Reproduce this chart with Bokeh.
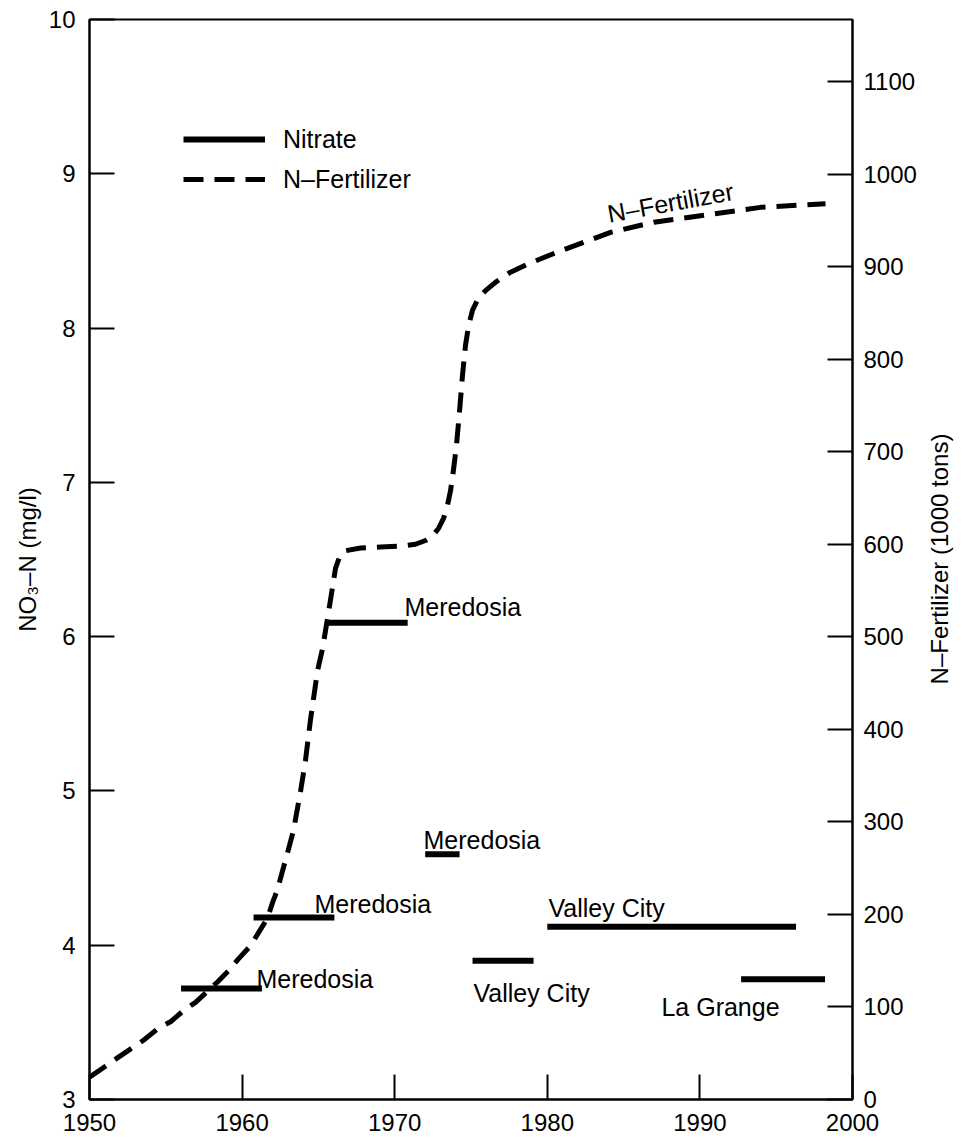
from bokeh.plotting import figure
from bokeh.models import Range1d, LinearAxis, FixedTicker, Legend, LegendItem, ColumnDataSource, Label, Div
from bokeh.layouts import row
from bokeh.embed import file_html
from bokeh.resources import INLINE
from bokeh.core.properties import value

FONT = "Liberation Sans"

# Nitrate (NO3-N, mg/l) period averages
sites = ["Meredosia", "Meredosia", "Meredosia", "Meredosia", "Valley City", "Valley City", "La Grange"]
start_year = [1956.0, 1960.75, 1965.6, 1972.0, 1975.1, 1980.0, 1992.7]
end_year = [1961.3, 1966.05, 1970.85, 1974.25, 1979.1, 1996.3, 1998.2]
nitrate = [3.72, 4.18, 6.09, 4.59, 3.90, 4.12, 3.78]
label_x = [1960.94, 1964.74, 1970.64, 1971.89, 1975.16, 1980.08, 1987.48]
label_y = [3.78, 4.27, 6.19, 4.68, 3.69, 4.24, 3.60]

# N-Fertilizer (1000 tons)
fert_year = [1950.0, 1951.05, 1951.83, 1952.82, 1953.54, 1954.52, 1955.31, 1956.16, 1956.95,
             1957.8, 1958.39, 1959.11, 1959.76, 1960.55, 1961.07, 1961.66, 1962.0, 1962.3,
             1962.65, 1962.97, 1963.37, 1963.83, 1964.15, 1964.48, 1964.94, 1965.27, 1965.6,
             1965.92, 1966.12, 1966.4, 1966.78, 1967.76, 1969.07, 1970.38, 1971.36, 1972.02,
             1972.48, 1972.87, 1973.2, 1973.46, 1973.66, 1973.85, 1974.05, 1974.25, 1974.44,
             1974.64, 1974.84, 1975.1, 1975.49, 1975.95, 1976.6, 1977.59, 1978.9, 1980.87,
             1984.14, 1987.0, 1990.04, 1993.97, 1998.23]
fert_kt = [24, 36, 45, 56, 64, 77, 84, 96, 105,
           118, 127, 139, 152, 166, 180, 196, 213, 226,
           247, 266, 291, 333, 366, 410, 463, 487, 520,
           553, 574, 587, 593, 596, 597, 598, 600, 604,
           609, 617, 628, 642, 658, 680, 707, 744, 782,
           815, 836, 853, 866, 874, 883, 894, 904, 917,
           937, 948, 955, 964, 968]

x_ticks = [1950, 1960, 1970, 1980, 1990, 2000]
left_ticks = [3, 4, 5, 6, 7, 8, 9, 10]
right_ticks = [0, 100, 200, 300, 400, 500, 600, 700, 800, 900, 1000, 1100]
right_title = "N–Fertilizer (1000 tons)"

p = figure(width=925, height=1141, output_backend="svg", toolbar_location=None,
           x_range=Range1d(1950, 2000), y_range=Range1d(3, 10),
           min_border_left=89, min_border_right=73, min_border_top=19, min_border_bottom=42)
p.extra_y_ranges = {"fert": Range1d(0, 1167)}
p.xgrid.visible = False
p.ygrid.visible = False
p.outline_line_color = "black"
p.outline_line_width = 2
p.background_fill_color = "white"
p.border_fill_color = "white"

def style_axis(ax):
    ax.axis_line_color = "black"
    ax.axis_line_width = 2
    ax.major_tick_in = 25
    ax.major_tick_out = 0
    ax.major_tick_line_width = 2
    ax.major_tick_line_color = "black"
    ax.minor_tick_line_color = None
    ax.major_label_text_font = FONT
    ax.major_label_text_font_size = "24px"
    ax.major_label_text_color = "black"
    ax.axis_label_text_font = FONT
    ax.axis_label_text_font_size = "24px"
    ax.axis_label_text_font_style = "normal"
    ax.axis_label_text_color = "black"

xa = p.xaxis[0]
xa.ticker = FixedTicker(ticks=x_ticks)
style_axis(xa)
xa.major_label_standoff = 14

ya = p.yaxis[0]
ya.ticker = FixedTicker(ticks=left_ticks)
style_axis(ya)
ya.major_label_standoff = 14
ya.axis_label = "NO₃–N (mg/l)"
ya.axis_label_standoff = 5

ra = LinearAxis(y_range_name="fert", ticker=FixedTicker(ticks=right_ticks))
style_axis(ra)
ra.major_label_standoff = 11
p.add_layout(ra, "right")

bars = ColumnDataSource(dict(x0=start_year, x1=end_year, y=nitrate, site=sites))
r_nit = p.segment(x0="x0", y0="y", x1="x1", y1="y", source=bars,
                  line_color="black", line_width=6, line_cap="butt")

r_fert = p.line(fert_year, fert_kt, y_range_name="fert", line_color="black",
                line_width=5, line_dash="20 11", line_cap="butt", line_join="round")

labels = ColumnDataSource(dict(x=label_x, y=label_y, text=sites))
p.text(x="x", y="y", text="text", source=labels, text_font=value(FONT),
       text_font_size="25px", text_color="black", text_baseline="alphabetic", text_align="left")

p.add_layout(Label(x=1983.95, y=8.74, text="N–Fertilizer", angle=0.18, angle_units="rad",
                   text_font=FONT, text_font_size="25px", text_color="black",
                   text_baseline="alphabetic"))

legend = Legend(items=[LegendItem(label="Nitrate", renderers=[r_nit]),
                       LegendItem(label="N–Fertilizer", renderers=[r_fert])],
                location=(94, 905), orientation="vertical")
legend.glyph_width = 82
legend.glyph_height = 30
legend.label_height = 30
legend.spacing = 10
legend.padding = 0
legend.margin = 0
legend.label_standoff = 18
legend.border_line_color = None
legend.background_fill_alpha = 0
legend.label_text_font = FONT
legend.label_text_font_size = "25px"
legend.label_text_color = "black"
p.add_layout(legend, "center")

# right-hand axis title, reading bottom-to-top
title_div = Div(
    text=('<div style="position:absolute; left:15px; top:559px; '
          'transform:translate(-50%,-50%) rotate(-90deg); white-space:nowrap; '
          "font-family:'Liberation Sans'; font-size:24px; color:black; line-height:1;\">"
          + right_title + '</div>'),
    width=38, height=1141, margin=(0, 0, 0, 0),
    styles={"position": "relative", "overflow": "visible", "background": "white"})

layout = row(p, title_div, spacing=0)
open("out.html", "w").write(file_html(layout, INLINE))
